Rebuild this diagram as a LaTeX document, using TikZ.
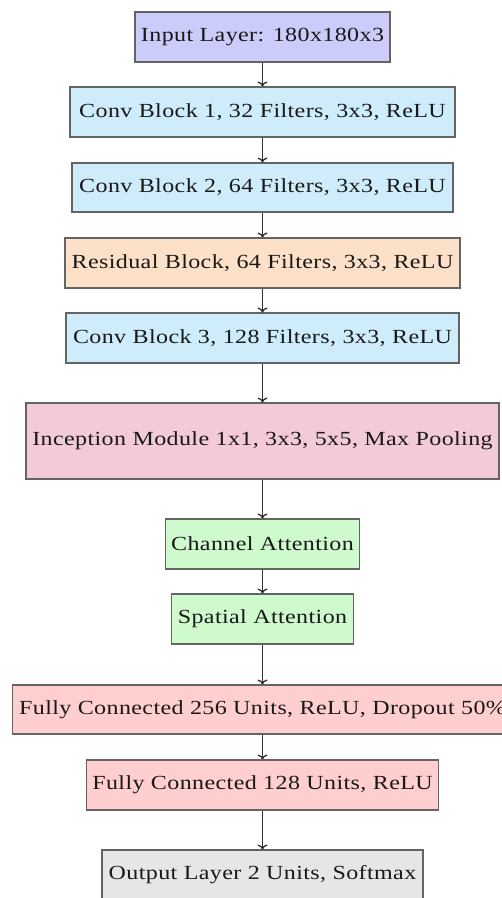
\documentclass[tikz,border=0pt]{standalone}
\usepackage{fontspec}
\setmainfont{Liberation Serif}[FakeStretch=1.2, LetterSpace=2]
\usetikzlibrary{arrows.meta}

\definecolor{inputfill}{RGB}{204,204,250}
\definecolor{convfill}{RGB}{206,236,250}
\definecolor{resfill}{RGB}{252,224,200}
\definecolor{incfill}{RGB}{242,202,216}
\definecolor{attfill}{RGB}{206,250,206}
\definecolor{fcfill}{RGB}{255,206,206}
\definecolor{outfill}{RGB}{230,230,230}
\definecolor{edgegray}{RGB}{100,100,100}
\definecolor{arrowgray}{RGB}{50,50,50}

\tikzset{
  layer/.style={draw=edgegray, line width=1.1pt, rectangle, align=center,
    inner xsep=6pt, inner ysep=0pt, minimum height=50pt,
    font=\fontsize{20pt}{24pt}\selectfont, text=black!90},
  flow/.style={draw=arrowgray, line width=1.4pt, -{To[length=5pt,width=10pt]}}
}

\begin{document}
\begin{tikzpicture}[x=1pt, y=-1pt]
  \useasboundingbox (0,0) rectangle (502,898);
  \clip (0,0) rectangle (502,898);

  \node[layer, fill=inputfill, minimum width=254pt] (inp) at (262.5,37) {Input Layer: 180x180x3};
  \node[layer, fill=convfill, minimum width=385pt] (c1) at (262.5,112) {Conv Block 1, 32 Filters, 3x3, ReLU};
  \node[layer, fill=convfill, minimum width=381pt, minimum height=49pt] (c2) at (262.5,187.5) {Conv Block 2, 64 Filters, 3x3, ReLU};
  \node[layer, fill=resfill, minimum width=395pt] (res) at (262.5,263) {Residual Block, 64 Filters, 3x3, ReLU};
  \node[layer, fill=convfill, minimum width=393pt] (c3) at (262.5,338) {Conv Block 3, 128 Filters, 3x3, ReLU};
  \node[layer, fill=incfill, minimum width=473pt, minimum height=76pt] (inc) at (262.5,441) {Inception Module 1x1, 3x3, 5x5, Max Pooling};
  \node[layer, fill=attfill, minimum width=194pt] (ca) at (262.5,544) {Channel Attention};
  \node[layer, fill=attfill, minimum width=179pt] (sa) at (262.5,619) {Spatial Attention};
  \node[layer, fill=fcfill, minimum width=500pt, minimum height=49pt] (fc1) at (262.5,709.5) {Fully Connected 256 Units, ReLU, Dropout 50\%};
  \node[layer, fill=fcfill, minimum width=352pt] (fc2) at (262.5,785) {Fully Connected 128 Units, ReLU};
  \node[layer, fill=outfill, minimum width=321pt] (out) at (262.5,875) {Output Layer 2 Units, Softmax};

  \foreach \a/\b in {inp/c1, c1/c2, c2/res, res/c3, c3/inc, inc/ca, ca/sa, sa/fc1, fc1/fc2, fc2/out}
    \draw[flow] (\a) -- (\b);
\end{tikzpicture}
\end{document}
